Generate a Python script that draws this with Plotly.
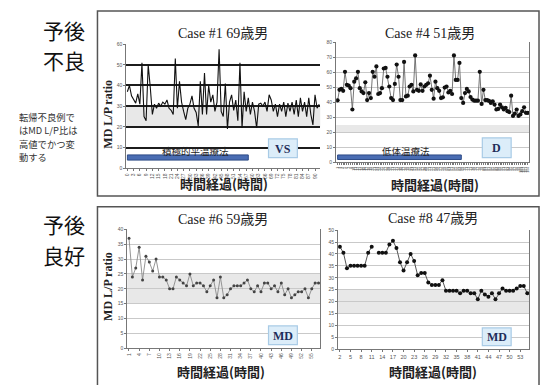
import plotly.graph_objects as go

# ---------------- data ----------------
case1_y = [37, 40, 35, 33, 31.5, 36, 31, 51, 25, 23, 50, 39, 26, 31, 29, 31.5, 30, 32, 31, 33,
           29, 28, 26, 53, 29, 42, 32, 27.5, 23.5, 29, 31, 35, 29, 27, 20.5, 42, 26, 46, 26, 40,
           32, 35.5, 27.5, 32, 57.5, 27.5, 25, 41, 19, 32, 35.5, 28, 33, 23, 51, 19.5, 37, 27.5,
           34, 26, 32, 27.5, 19.5, 31, 31.5, 30, 32, 27.5, 35.5, 33, 27.5, 31, 25, 31, 27.5, 32,
           25, 31.5, 27.5, 32, 26, 33, 25, 34, 27.5, 32, 25, 34, 26, 21, 35.5, 29, 31]
case4_y = [41.4, 48.4, 49, 47.7, 60.4, 51.7, 51.2, 49.5, 35.3, 53.8, 56, 60.4, 49.5, 47.3, 46.2,
           53.4, 41.6, 46.2, 42.9, 60.4, 57.1, 64, 45.6, 46.2, 49.5, 62.6, 63, 57.1, 50.6, 42.9,
           41.6, 52.3, 65.2, 57.1, 41.6, 41.6, 67, 44, 44.5, 50.6, 51.7, 47.3, 71.3, 48.4, 47.7,
           52, 47.7, 50.6, 51.7, 52.7, 57.8, 48.4, 42.5, 53.8, 49.5, 47.7, 42.9, 43.4, 49.9, 50.6,
           46.6, 47.7, 45.6, 71.3, 55, 55, 66.3, 42.9, 39.7, 46.2, 49, 47.3, 43.6, 41.9, 41.2,
           41.2, 41.2, 60.4, 39, 48.4, 41.6, 41.6, 41, 39.7, 40.8, 38.6, 35.3, 35.7, 38.6, 36.8,
           35.3, 36.4, 34.2, 33.6, 44.5, 31, 32.5, 35.3, 31, 32, 34.2, 36.8, 33.1, 33]
case6_y = [37, 24, 27, 34, 23, 31, 29, 26, 30, 24, 24, 23, 20, 20, 24, 23, 22, 21, 25, 21,
           22, 22, 21, 19, 21, 23, 17, 24, 17, 18, 20, 21, 21, 21, 22, 23, 20, 19, 21, 19,
           22, 22, 20, 21, 19, 22, 18, 20, 17, 18, 19, 19, 20, 17, 20, 22, 22]
case8_x = list(range(2, 56))
case8_y = [43, 40.5, 34, 35, 35, 35, 35, 35, 40.5, 43, None, 40.5, 40.5, 40.5, 44, 45.5, 42.5,
           36.5, 33, 36.5, 40, 37, 31, 32, 32, 28, 27, 27, 27, 29, 24.5, 24.5, 24.5, 24.5, 23.5,
           24.5, 24.5, 23.5, 23.5, 21, 24.5, 23, 22, 23.5, 21, 23.5, 25.5, 24.5, 24.5, 24.5,
           25.5, 26.5, 26.5, 23.5]

case1_x = list(range(len(case1_y)))
case4_x = list(range(len(case4_y)))
case6_x = list(range(1, len(case6_y) + 1))

case1_ticks = list(range(0, len(case1_y), 3))
case4_ticks = list(range(0, len(case4_y)))
case4_ticklabels = [str(i + 1) for i in case4_ticks]
case6_ticks = list(range(1, len(case6_y) + 1, 3))
case8_ticks = list(range(2, 56, 3))

bands = {"c1": (20, 30), "c4": (20, 25), "c6": (15, 25), "c8": (15, 25)}
treat1 = (0, 58, 4, 6.5, "積極的平温療法")
treat4 = (0, 67, 2, 5, "低体温療法")

titles = ["Case #1 69歳男", "Case #4 51歳男", "Case #6 59歳男", "Case #8 47歳男"]
outcome_labels = ["VS", "D", "MD", "MD"]
note_lines = ["転帰不良例で", "はMD L/P比は", "高値でかつ変", "動する"]

# ---------------- layout helpers ----------------
W, H = 541, 385
def px(x): return x / W
def py(y): return 1 - y / H

SERIF = "Liberation Serif, Noto Sans CJK JP, serif"
CJK = "Noto Sans CJK JP, sans-serif"

fig = go.Figure()
fig.add_trace(go.Scatter(x=case1_x, y=case1_y, mode="lines", line=dict(color="#111", width=1.1),
                         xaxis="x", yaxis="y", showlegend=False))
fig.add_trace(go.Scatter(x=case4_x, y=case4_y, mode="lines+markers",
                         line=dict(color="#666", width=0.9),
                         marker=dict(color="#111", size=4.2),
                         xaxis="x2", yaxis="y2", showlegend=False))
fig.add_trace(go.Scatter(x=case6_x, y=case6_y, mode="lines+markers",
                         line=dict(color="#8a8a8a", width=0.9),
                         marker=dict(color="#444", size=3),
                         xaxis="x3", yaxis="y3", showlegend=False))
fig.add_trace(go.Scatter(x=case8_x, y=case8_y, mode="lines+markers", connectgaps=False,
                         line=dict(color="#555", width=1),
                         marker=dict(color="#111", size=4),
                         xaxis="x4", yaxis="y4", showlegend=False))

tickfont = dict(size=5, color="#555", family="Liberation Sans")

def xax(domain, rng, tickvals, ticktext=None, angle=-90, size=5, anchor="y"):
    d = dict(domain=domain, range=rng, anchor=anchor, showgrid=False, zeroline=False,
             showline=True, linecolor="#777", linewidth=1, ticks="outside", ticklen=2,
             tickcolor="#777", tickmode="array", tickvals=tickvals, tickangle=angle,
             tickfont=dict(size=size, color="#555", family="Liberation Sans"))
    if ticktext is not None:
        d["ticktext"] = ticktext
    return d

def yax(domain, rng, dtick, anchor, gridcolor="#c9c9c9", gridwidth=1, mirror=True):
    return dict(domain=domain, range=rng, anchor=anchor, dtick=dtick, tick0=0,
                showgrid=True, gridcolor=gridcolor, gridwidth=gridwidth, zeroline=False,
                showline=True, linecolor="#777", linewidth=1, mirror=mirror,
                ticks="outside", ticklen=2, tickcolor="#777", tickfont=tickfont)

n1, n4 = len(case1_y), len(case4_y)
fig.update_layout(
    width=W, height=H, margin=dict(l=0, r=0, t=0, b=0),
    paper_bgcolor="white", plot_bgcolor="white", showlegend=False,
    xaxis=xax([px(125), px(320)], [-0.5, n1 - 0.5], case1_ticks, anchor="y"),
    yaxis=yax([py(168), py(41.7)], [0, 60], 10, "x", gridcolor="#1c1c1c", gridwidth=2, mirror=False),
    xaxis2=xax([px(336), px(530)], [-0.8, n4 - 0.3], case4_ticks, case4_ticklabels, size=3.5, anchor="y2"),
    yaxis2=yax([py(162), py(40)], [0, 80], 10, "x2"),
    xaxis3=xax([px(126), px(320)], [0.5, len(case6_y) + 0.5], case6_ticks, anchor="y3"),
    yaxis3=yax([py(350.7), py(230)], [0, 40], 5, "x3"),
    xaxis4=xax([px(338), px(530)], [1.5, 55.5], case8_ticks, angle=0, size=5.5, anchor="y4"),
    yaxis4=yax([py(351.7), py(230.7)], [0, 50], 5, "x4"),
)

shapes = []
# outer boxes
shapes.append(dict(type="rect", xref="paper", yref="paper", x0=px(96), x1=px(540), y0=py(196), y1=py(8),
                   line=dict(color="#555", width=1.5), fillcolor="rgba(0,0,0,0)", layer="below"))
shapes.append(dict(type="rect", xref="paper", yref="paper", x0=px(96), x1=px(540), y0=py(390), y1=py(207),
                   line=dict(color="#555", width=1.5), fillcolor="rgba(0,0,0,0)", layer="below"))
# normal-range bands
for (k, ax) in [("c1", ""), ("c4", "2"), ("c6", "3"), ("c8", "4")]:
    lo, hi = bands[k]
    shapes.append(dict(type="rect", xref=f"x{ax} domain", yref=f"y{ax}", x0=0, x1=1, y0=lo, y1=hi,
                       fillcolor="#e8e8e8", line=dict(width=0), layer="below"))
# treatment bars
for (t, ax) in [(treat1, ""), (treat4, "2")]:
    shapes.append(dict(type="rect", xref=f"x{ax}", yref=f"y{ax}", x0=t[0], x1=t[1], y0=t[2], y1=t[3],
                       fillcolor="#4a6db3", line=dict(color="#2c4a86", width=1), layer="above"))

# outcome boxes
boxes = [(268, 297, 138, 157), (483, 512, 137, 157), (268, 297, 328, 347), (483, 512, 330, 348)]
for (x0, x1, y0, y1) in boxes:
    shapes.append(dict(type="rect", xref="paper", yref="paper", x0=px(x0), x1=px(x1), y0=py(y1), y1=py(y0),
                       fillcolor="#dcedf9", line=dict(color="#a9cbe6", width=1.2), layer="above"))
fig.update_layout(shapes=shapes)

ann = []
def text(x, y, s, size, family=SERIF, bold=False, color="#222", xanchor="center", align="center"):
    ann.append(dict(xref="paper", yref="paper", x=px(x), y=py(y), text=(f"<b>{s}</b>" if bold else s),
                    showarrow=False, xanchor=xanchor, yanchor="middle", align=align,
                    font=dict(size=size, family=family, color=color)))

# chart titles
text(222, 31, titles[0], 14)
text(430, 31, titles[1], 14)
text(222, 220, titles[2], 14)
text(433, 219, titles[3], 14)
# x titles
for (x, y) in [(223, 183), (435, 184), (220, 374), (433, 374)]:
    text(x, y, "時間経過(時間)", 13, family=CJK, bold=True, color="#222")
# y titles
for (x, y) in [(107, 113), (106, 288)]:
    ann.append(dict(xref="paper", yref="paper", x=px(x), y=py(y), text="<b>MD L/P ratio</b>",
                    textangle=-90, showarrow=False, xanchor="center", yanchor="middle",
                    font=dict(size=12, family=SERIF, color="#222")))
# outcome labels
for (x0, x1, y0, y1), lab in zip(boxes, outcome_labels):
    text((x0 + x1) / 2, (y0 + y1) / 2 + 0.5, lab, 12, bold=True, color="#1f2d5a")
# treatment labels
text(195, 150, treat1[4], 9.5, family=CJK, color="#222")
text(406, 150, treat4[4], 9.5, family=CJK, color="#222")
# left side labels
text(62, 27, "予後", 21, family=CJK, color="#111")
text(62, 58, "不良", 21, family=CJK, color="#111")
text(62, 225, "予後", 21, family=CJK, color="#111")
text(62, 256, "良好", 21, family=CJK, color="#111")
for s, y in zip(note_lines, [116, 129.5, 143, 156.5]):
    text(15, y, s, 9.3, family=CJK, color="#333", xanchor="left", align="left")

fig.update_layout(annotations=ann)
fig.write_html("out.html", config={"displayModeBar": False},
               post_script="document.body.style.margin='0';document.body.style.overflow='hidden';")
